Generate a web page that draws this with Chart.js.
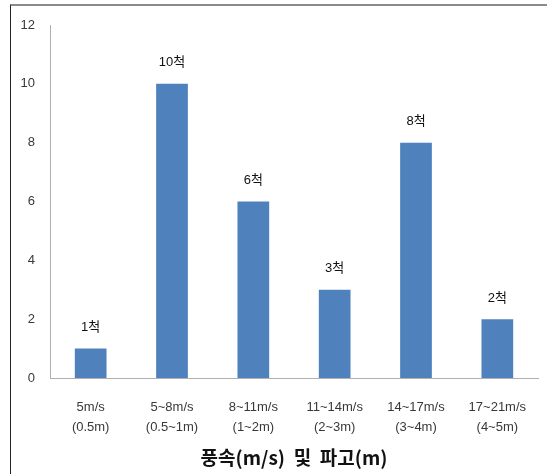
<!DOCTYPE html>
<html>
<head>
<meta charset="utf-8">
<script src="https://cdn.jsdelivr.net/npm/chart.js@4"></script>
<style>
  body { margin: 0; background: #fff; }
  #wrap { position: relative; width: 547px; height: 474px; }
  #frame { position: absolute; left: 10px; top: 4px; right: 0; bottom: 0;
           border-top: 2px solid #8a8a8a; border-left: 1px solid #222; pointer-events: none; }
  canvas { position: absolute; left: 0; top: 0; }
</style>
</head>
<body>
<div id="wrap">
  <canvas id="chart" width="547" height="474"></canvas>
  <div id="frame"></div>
</div>
<script>
const categories = [
    ['5m/s', '(0.5m)'],
    ['5~8m/s', '(0.5~1m)'],
    ['8~11m/s', '(1~2m)'],
    ['11~14m/s', '(2~3m)'],
    ['14~17m/s', '(3~4m)'],
    ['17~21m/s', '(4~5m)']
];
const ships = [1, 10, 6, 3, 8, 2];
const barLabels = ['1척', '10척', '6척', '3척', '8척', '2척'];
const axisTitle = '풍속(m/s)  및  파고(m)';

const fontFamily = '"Liberation Sans", "Noto Sans CJK KR", sans-serif';

const valueLabels = {
    id: 'valueLabels',
    afterDatasetsDraw(chart) {
        const ctx = chart.ctx;
        const meta = chart.getDatasetMeta(0);
        ctx.save();
        ctx.fillStyle = '#111';
        ctx.font = '13px ' + fontFamily;
        ctx.textAlign = 'center';
        ctx.textBaseline = 'middle';
        meta.data.forEach((bar, i) => {
            ctx.fillText(barLabels[i], bar.x, bar.y - 21);
        });
        ctx.restore();
    }
};

new Chart(document.getElementById('chart'), {
    type: 'bar',
    data: {
        labels: categories,
        datasets: [{
            data: ships,
            backgroundColor: '#4f81bd',
            categoryPercentage: 1,
            barPercentage: 0.39
        }]
    },
    options: {
        responsive: false,
        animation: false,
        events: [],
        layout: { padding: { left: 0, right: 9, top: 25, bottom: 5 } },
        scales: {
            x: {
                grid: { display: false, drawTicks: false },
                border: { color: '#b0b0b0' },
                ticks: {
                    color: '#383838',
                    padding: 18.6,
                    maxRotation: 0,
                    font: { family: fontFamily, size: 13, lineHeight: 1.6 }
                },
                title: {
                    display: true,
                    text: axisTitle,
                    color: '#111',
                    padding: 0,
                    font: { family: '"Noto Sans CJK KR", sans-serif', size: 19, weight: 'bold' }
                },
                afterFit: s => { s.height = 91; }
            },
            y: {
                min: 0,
                max: 12,
                grid: { display: false, drawTicks: false },
                border: { color: '#b0b0b0' },
                ticks: {
                    stepSize: 2,
                    color: '#383838',
                    padding: 15,
                    font: { family: fontFamily, size: 13 }
                },
                afterFit: s => { s.width = 50; }
            }
        },
        plugins: {
            legend: { display: false },
            tooltip: { enabled: false }
        }
    },
    plugins: [valueLabels]
});
</script>
</body>
</html>
